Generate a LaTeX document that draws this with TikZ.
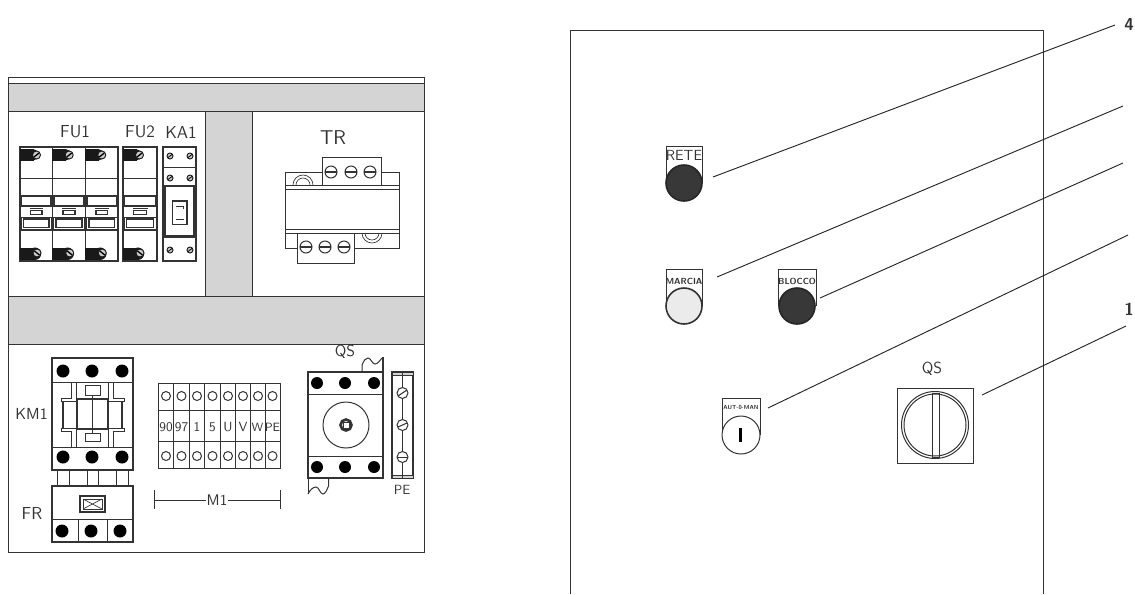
\documentclass[tikz,border=0pt]{standalone}
\begin{document}
\begin{tikzpicture}[
        x=0.75pt, y=-0.75pt, line width=0.75pt, color={black!80},
        font=\fontsize{13}{15}\sffamily, inner sep=0,
        band/.style={fill=black!17, draw=black!80},
        thick part/.style={line width=1.3pt},
        thin part/.style={line width=0.5pt},
        small lab/.style={font=\fontsize{10}{12}\sffamily},
        tiny lab/.style={font=\fontsize{6.6}{7}\sffamily\bfseries},
        leader/.style={line width=0.7pt, black!85},
        screw/.style={fill=black!20, draw=black!90, line width=0.7pt},
        pole/.style={fill=black!90, draw=black!90}
    ]
    \useasboundingbox (0,0) rectangle (1135,594);
    \fill[white] (0,0) rectangle (1135,594);

    % panel
    \draw(8.5,77) rectangle (424,552);
    \draw[band](8.5,83) rectangle (424,111);
    \draw[band](8.5,296) rectangle (424,344);
    \draw[band](205,111) rectangle (252,296);

    % FU1 and FU2
    \foreach \x/\w in {20/32.7,52.7/32.7,85.3/32.7,123/34}{
        \draw[line width=1pt](\x,147) rectangle ++(\w,114);
        \draw(\x,178) -- ++(\w,0);
        \draw(\x,230) -- ++(\w,0);
        \draw[thick part](\x+1.5,196) rectangle ++(\w-3,10);
        \draw(\x,206.5) -- ++(\w,0);
        \draw[thin part](\x+1,217) rectangle ++(\w-2,12);
        \draw[thick part](\x+3.5,219) rectangle ++(\w-7,8.5);
        \draw[thin part](\x+9.5,208.5) -- ++(\w-19,0);
        \draw[thick part](\x+10.5,210.5) rectangle ++(\w-21,4);
        \fill[pole](\x,149.5) rectangle ++(13,10.5);
        \fill[pole](\x+13,154.8) circle (5.2);
        \draw[screw](\x+16.5,155) circle (4);
        \draw[line width=1pt, black](\x+14,157) -- ++(5,-4);
        \fill[pole](\x,248) rectangle ++(15,11.5);
        \fill[pole](\x+15,253.7) circle (5.7);
        \draw[screw](\x+17,253) circle (4);
        \draw[line width=1pt, black](\x+14.5,251) -- ++(5,4);
    }

    % KA1
    \draw[line width=1pt](163,147) rectangle (196,261);
    \draw(163,167.5) -- (196,167.5);
    \draw(163,237) -- (196,237);
    \draw[line width=1.5pt](165,186) rectangle (194,236);
    \draw[thick part](172.5,201) rectangle (187,224.5);
    \draw(176,206) -- (183,206) -- (183,209);
    \draw(176,219.5) -- (184,219.5);
    \foreach \y in {156,178,250}{
        \foreach \x in {170,190}{
            \draw[screw](\x,\y) circle (3);
            \draw[black, line width=0.6pt](\x-2,\y+1.5) -- ++(4,-3);
        }
    }

    % TR
    \draw(285,185) -- (285,172) -- (322,172);
    \draw(381,172) -- (399,172) -- (399,185);
    \draw(285,233) -- (285,248) -- (297,248);
    \draw(354,248) -- (399,248) -- (399,233);
    \draw(285,185) rectangle (399,233);
    \draw(285,189) -- (399,189);
    \draw(285,229) -- (399,229);
    \draw(322,185) -- (322,157) -- (381,157) -- (381,185);
    \draw(297,233) -- (297,263) -- (354,263) -- (354,233);
    \foreach \r in {7,10}{
        \draw[thin part](303+\r,185) arc (0:-180:\r);
        \draw[thin part](372+\r,233) arc (0:180:\r);
    }
    \foreach \x in {331,351,370}{
        \draw(\x,172) circle (6);
        \draw[thick part](\x-6,172) -- ++(12,0);
    }
    \foreach \x in {306,325,344}{
        \draw(\x,247) circle (6);
        \draw[thick part](\x-6,247) -- ++(12,0);
    }

    % KM1
    \draw[line width=1pt](52,358) rectangle (133,470);
    \draw(52,382) -- (133,382);
    \draw(52,447) -- (133,447);
    \foreach \x in {63,92,122}{
        \fill[black](\x,371) circle (6.5);
        \fill[black](\x,457) circle (6.5);
    }
    \draw[line width=1.1pt](77,399) rectangle (108,429);
    \draw(92,395) -- (92,433);
    \draw(85,385) rectangle (100,395);
    \draw(85,433) rectangle (100,441);
    \foreach \x in {76,108}{
        \draw(\x,382) -- (\x,399);
        \draw(\x,429) -- (\x,447);
    }
    \draw(71,382) -- (71,398) -- (61,398) -- (61,401) -- (76,401);
    \draw(71,447) -- (71,431) -- (61,431) -- (61,428) -- (76,428);
    \draw(113,382) -- (113,398) -- (124,398) -- (124,401) -- (109,401);
    \draw(113,447) -- (113,431) -- (124,431) -- (124,428) -- (109,428);
    \draw[thick part](63,401) -- (63,428);
    \draw[thick part](122,401) -- (122,428);

    % links to FR
    \foreach \x in {57,69,87,98,116,128}{
        \draw(\x,470) -- (\x,486);
    }

    % FR
    \draw[line width=1pt](52,486) rectangle (133,542);
    \draw(52,519) -- (133,519);
    \draw(78,519) -- (78,542);
    \draw(107,519) -- (107,542);
    \foreach \x in {62,91,120}{
        \fill[black](\x,531) circle (6.5);
    }
    \draw[thick part](80,496) rectangle (105,512);
    \draw(83,499) rectangle (102,509);
    \draw[thin part](83,499) -- (102,509) (83,509) -- (102,499);

    % M1 terminals
    \draw(158,383) rectangle (280,468);
    \draw(158,410) -- (280,410);
    \draw(158,441) -- (280,441);
    \foreach \x in {173.5,189,204.5,220,235,250,265}{
        \draw(\x,383) -- (\x,468);
    }
    \foreach \x in {166,181.5,197,212.5,228,243,258,272.5}{
        \draw(\x,396) circle (4.5);
        \draw(\x,456) circle (4.5);
    }
    \foreach \x/\t [count=\i] in {166/90,181.5/97,197/1,212.5/5,228/U,243/V}{
        \node[small lab](term\i) at (\x,427) {\t};
    }
    \node[font=\fontsize{9}{10}\sffamily](term7) at (257.5,427) {W};
    \node[font=\fontsize{9}{10}\sffamily](term8) at (272.5,427) {PE};

    % M1
    \node(m1) at (217,500) {\fontsize{11.5}{12}\selectfont M1};
    \draw(154,490) -- (154,509);
    \draw(280,490) -- (280,509);
    \draw(154,500) -- (m1.west);
    \draw(228,500) -- (280,500);

    % QS on the panel
    \draw[line width=1pt](308,372) rectangle (383,478);
    \draw(308,394) -- (383,394);
    \draw(308,456) -- (383,456);
    \foreach \x in {317,345,374}{
        \fill[black](\x,383) circle (6);
        \fill[black](\x,467) circle (6);
    }
    \draw(346,425) circle (23);
    \draw[line width=2pt](346,425) circle (5.5);
    \draw(343,422) rectangle (349,428);
    \draw(362,372) -- (362,365) .. controls (364,360) and (366,358) .. (368,358)
        .. controls (371,358) and (372,364) .. (375,364)
        .. controls (378,364) and (380,360) .. (382,358);
    \draw[thick part](383,357) -- (383,372);
    \draw(328.5,478) -- (328.5,486) .. controls (327,490) and (325,494) .. (323,494)
        .. controls (320,494) and (319,487) .. (316,487)
        .. controls (313,487) and (310,490) .. (308,494);
    \draw(308,478) -- (308,494);

    % PE bar
    \draw[line width=1pt](392,372) rectangle (413,478);
    \draw[band, thin part](392,372) rectangle (413,375);
    \draw[band, thin part](392,475) rectangle (413,478);
    \draw(402.5,372) -- (402.5,478);
    \foreach \y in {393,425,457}{
        \draw[fill=white](402.5,\y) circle (5.5);
    }
    \draw(398,396) -- (407,390);
    \draw(398,427) -- (407,423);
    \draw(397,457) -- (408,457);

    % labels
    \node(fu1) at (75,132) {FU1};
    \node(fu2) at (140,132) {FU2};
    \node(ka1) at (181,132) {KA1};
    \node(tr) at (333,138) {\fontsize{15}{15}\selectfont TR};
    \node(km1) at (31.5,414) {\fontsize{12}{15}\selectfont KM1};
    \node(fr) at (32,513) {FR};
    \node(qsa) at (345,352) {\fontsize{12}{12}\selectfont QS};
    \node[small lab](pe) at (402,490) {PE};

    % door
    \draw(570,594) -- (570,30) -- (1043,30) -- (1043,594);

    % RETE
    \draw(666,183) -- (666,146) -- (702,146) -- (702,183);
    \fill[fill=black!78, draw=black!85, line width=1.2pt](684,183) circle (18);
    \node[font=\fontsize{11}{11}\sffamily](rete) at (684,155.5) {RETE};

    % MARCIA
    \draw(666,306) -- (666,269) -- (702,269) -- (702,306);
    \draw[fill=black!8, line width=1.2pt](684,306) circle (18);
    \node[tiny lab](marcia) at (684,281) {MARCIA};

    % BLOCCO
    \draw(778,306) -- (778,269) -- (816,269) -- (816,306);
    \fill[fill=black!78, draw=black!85, line width=1.2pt](797,306) circle (18);
    \node[tiny lab](blocco) at (797,281) {BLOCCO};

    % key selector
    \draw(722,435) -- (722,398) -- (760,398) -- (760,435);
    \draw[fill=white](741,435) circle (19);
    \fill[black](738.5,428) rectangle (742,442);
    \node[font=\fontsize{4.4}{5}\sffamily\bfseries](autman) at (741,407) {AUT-0-MAN};

    % QS on the door
    \draw(897,388) rectangle (973,463);
    \draw(935,425) circle (33.5);
    \draw(935,425) circle (31);
    \draw(932,393) rectangle (939,457);
    \node[font=\fontsize{12}{12}\sffamily](qsb) at (932,369) {QS};

    % leaders
    \coordinate(a1) at (713,177);
    \coordinate(b1) at (1115,25);
    \coordinate(a2) at (717,277);
    \coordinate(b2) at (1123,106);
    \coordinate(a3) at (820,298);
    \coordinate(b3) at (1123,163);
    \coordinate(a4) at (768,408);
    \coordinate(b4) at (1128,235);
    \coordinate(a5) at (982,395);
    \coordinate(b5) at (1126,326);
    \foreach \i in {1,...,5}{
        \draw[leader](a\i) -- (b\i);
    }

    % numbers
    \node[font=\fontsize{13}{15}\sffamily\bfseries, anchor=east](num4) at (1134.5,24) {4};
    \node[font=\fontsize{13}{15}\sffamily\bfseries, anchor=east](num1) at (1134.5,309) {1};
\end{tikzpicture}
\end{document}
